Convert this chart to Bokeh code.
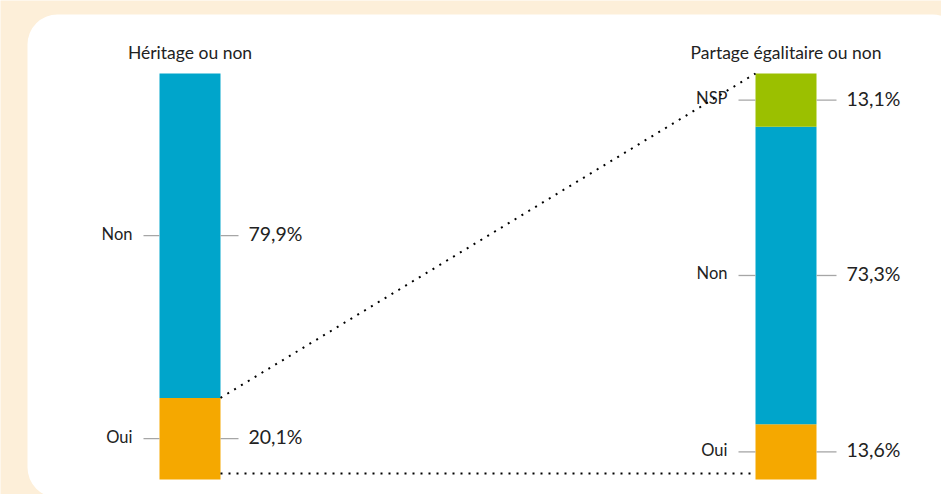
from bokeh.plotting import figure
from bokeh.models import Range1d, BoxAnnotation
from bokeh.core.properties import value
from bokeh.embed import file_html
from bokeh.resources import INLINE

# ---- data ----
titles = ["Héritage ou non", "Partage égalitaire ou non"]
left_cats = ["Oui", "Non"]
left_vals = [20.1, 79.9]
right_cats = ["Oui", "Non", "NSP"]
right_vals = [13.6, 73.3, 13.1]
left_labels = ["20,1%", "79,9%"]
right_labels = ["13,6%", "73,3%", "13,1%"]

# ---- styling / layout ----
COLORS = {"Oui": "#f5a800", "Non": "#00a5cb", "NSP": "#9bc000"}
BG = "#fdefd9"
TXT = "#222222"
TICK = "#a6a6a6"
FONT = value("Lato")
W, H = 941, 494
BAR_X = [189.5, 785.5]
BAR_W = 61
PX_PER_PCT = 4.06
Y0 = 479  # screen y of 0%

p = figure(width=W, height=H, output_backend="svg", toolbar_location=None,
           x_range=Range1d(0, W),
           y_range=Range1d(-(H - Y0) / PX_PER_PCT, Y0 / PX_PER_PCT),
           min_border=0, outline_line_color=None,
           background_fill_color=BG, border_fill_color=BG)
p.axis.visible = False
p.grid.visible = False

# white rounded panel
p.add_layout(BoxAnnotation(left=27, right=962, top=(Y0 - 14) / PX_PER_PCT,
                           bottom=(Y0 - 497) / PX_PER_PCT,
                           fill_color="white", fill_alpha=1, line_color=None,
                           border_radius=30, level="underlay"))


def stacked(xc, cats, vals, labels, cat_right, tick_in_l, tick_out_r, val_left):
    bottom = 0.0
    for c, v, lab in zip(cats, vals, labels):
        top = bottom + v
        mid = (bottom + top) / 2
        p.quad(left=xc - BAR_W / 2, right=xc + BAR_W / 2, bottom=bottom, top=top,
               fill_color=COLORS[c], line_color=None)
        p.segment(x0=[tick_in_l, xc + BAR_W / 2], x1=[xc - BAR_W / 2, tick_out_r],
                  y0=[mid, mid], y1=[mid, mid], line_color=TICK, line_width=1.3)
        p.text(x=[cat_right], y=[mid], text=[c], text_align="right", text_baseline="middle",
               text_font=FONT, text_font_size="16.5px", text_color=TXT, y_offset=-2)
        p.text(x=[val_left], y=[mid], text=[lab], text_align="left", text_baseline="middle",
               text_font=FONT, text_font_size="19.5px", text_color=TXT, y_offset=-2)
        bottom = top
    return bottom


stacked(BAR_X[0], left_cats, left_vals, left_labels, 132, 143, 238, 248)
stacked(BAR_X[1], right_cats, right_vals, right_labels, 727, 738, 836, 846)

# titles
p.text(x=BAR_X, y=[(Y0 - 52) / PX_PER_PCT] * 2, text=titles, text_align="center",
       text_baseline="middle", text_font=FONT, text_font_size="17.5px", text_color=TXT)

# dotted connectors
lx = BAR_X[0] + BAR_W / 2
rx = BAR_X[1] - BAR_W / 2
p.line(x=[lx, rx], y=[left_vals[0], sum(right_vals)], line_color="black",
       line_width=2, line_dash="2 6")
p.line(x=[lx, rx], y=[1.5, 1.5], line_color="black", line_width=2, line_dash="2 6")

open("out.html", "w").write(file_html(p, INLINE))
